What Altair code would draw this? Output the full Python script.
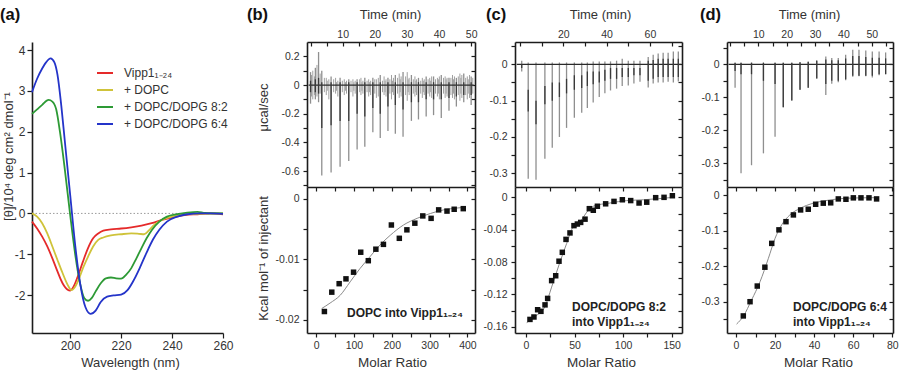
import altair as alt
import pandas as pd

W, H = 903, 372
FONT = "Liberation Sans"
INK = "#1c1c1c"
TXT = "#333333"
MINUS = "\u2212"

# ---------------- (a) CD spectra ----------------
cd_series = ["Vipp1₁₋₂₄", "+ DOPC", "+ DOPC/DOPG 8:2", "+ DOPC/DOPG 6:4"]
cd_colors = ["#e52a2a", "#cfc33a", "#2d9a35", "#2434c9"]

wl_vipp = [185, 187, 189, 191, 193, 195, 197, 199, 200, 201, 203, 205, 207, 209, 211, 213,
           216, 220, 224, 228, 232, 236, 240, 245, 250, 255, 260]
th_vipp = [-0.20, -0.37, -0.57, -0.81, -1.10, -1.42, -1.71, -1.87, -1.89, -1.83, -1.54, -1.18,
           -0.85, -0.61, -0.49, -0.42, -0.39, -0.37, -0.34, -0.30, -0.24, -0.16, -0.10, -0.04,
           -0.02, 0.00, -0.02]

wl_dopc = [185, 187, 189, 191, 193, 195, 197, 199, 200.5, 202, 203.5, 205, 207, 209, 211, 213,
           216, 220, 224, 227, 229, 231, 233, 236, 240, 245, 250, 260]
th_dopc = [0.00, -0.08, -0.24, -0.49, -0.81, -1.14, -1.46, -1.75, -1.88, -1.79, -1.59, -1.34,
           -1.06, -0.81, -0.65, -0.59, -0.54, -0.51, -0.49, -0.50, -0.51, -0.41, -0.28, -0.16,
           -0.08, -0.02, -0.01, 0.00]

wl_82 = [185, 187, 189, 191.5, 193, 194.5, 196, 198, 200, 202, 204, 205.5, 207, 208.5, 210, 212,
         214, 216, 218, 220, 222, 224, 226, 228, 230, 232, 235, 238, 242, 246, 250, 253, 260]
th_82 = [2.44, 2.55, 2.66, 2.78, 2.74, 2.55, 1.99, 1.02, -0.04, -1.02, -1.75, -2.07, -2.14,
         -2.07, -1.91, -1.71, -1.59, -1.57, -1.59, -1.60, -1.50, -1.34, -1.10, -0.85, -0.61,
         -0.41, -0.20, -0.08, -0.02, 0.02, 0.04, 0.01, 0.00]

wl_64 = [185, 187, 189, 190.5, 192.3, 193.8, 195, 196.5, 198, 200, 202, 204, 206, 208, 210, 212,
         214.5, 217, 220, 222.5, 225, 227.5, 230, 232.5, 235, 238, 242, 246, 251, 255, 260]
th_64 = [2.97, 3.30, 3.55, 3.70, 3.80, 3.70, 3.40, 2.64, 1.70, 0.45, -0.80, -1.75, -2.30, -2.46,
         -2.38, -2.17, -2.04, -2.01, -1.99, -1.88, -1.63, -1.31, -0.96, -0.64, -0.40, -0.20,
         -0.08, -0.02, 0.00, 0.00, -0.01]

# ---------------- (b) DOPC into Vipp1 ----------------
b_inj_t = [0.0, 1.5, 2.5, 3.5, 6.4, 9.2, 11.9, 14.5, 16.9, 19.4, 21.7, 24.1, 26.4, 28.8, 31.4,
           33.6, 36.0, 38.3, 40.7, 43.1, 45.4, 47.7, 50.0]
b_inj_hi = [0.09, 0.12, 0.23, 0.10, 0.06, 0.05, 0.04, 0.04, 0.05, 0.05, 0.07, 0.05, 0.07, 0.09,
            0.07, 0.05, 0.06, 0.06, 0.07, 0.05, 0.05, 0.08, 0.06]
b_inj_lo = [-0.13, -0.10, -0.12, -0.63, -0.61, -0.57, -0.53, -0.45, -0.43, -0.33, -0.37, -0.32,
            -0.34, -0.36, -0.25, -0.24, -0.22, -0.21, -0.23, -0.18, -0.15, -0.12, -0.14]
b_core_hi = [0.03, 0.04, 0.05, 0.02, 0.02, 0.02, 0.02, 0.02, 0.02, 0.02, 0.02, 0.02, 0.02, 0.02,
             0.02, 0.02, 0.02, 0.02, 0.02, 0.02, 0.02, 0.02, 0.02]
b_core_lo = [-0.05, -0.05, -0.06, -0.30, -0.28, -0.25, -0.25, -0.20, -0.22, -0.16, -0.20, -0.15,
             -0.14, -0.17, -0.12, -0.12, -0.10, -0.10, -0.10, -0.09, -0.08, -0.07, -0.07]
b_noise_t = [0.3, 0.7, 1.2, 2.0, 3.0, 4.3, 4.9, 5.2, 5.7, 7.2, 7.8, 8.1, 8.5, 9.9, 10.5, 10.9,
             11.2, 12.6, 13.2, 13.5, 13.9, 15.3, 15.7, 16.0, 16.3, 17.6, 18.1, 18.4, 18.7, 20.0,
             20.5, 21.1, 22.4, 22.9, 23.2, 23.5, 24.7, 25.2, 25.5, 25.8, 27.1, 27.6, 27.9, 28.2,
             29.6, 30.1, 30.4, 30.7, 32.0, 32.5, 32.8, 33.0, 34.3, 34.8, 35.1, 35.4, 36.6, 37.1,
             37.4, 37.7, 38.9, 39.5, 39.8, 40.1, 41.4, 41.9, 42.2, 42.5, 43.7, 44.2, 44.5, 44.8,
             46.0, 46.5, 46.8, 47.1, 48.3, 48.8, 49.1, 49.5, 50.5]
b_noise_hi = [0.07, 0.10, 0.06, 0.14, 0.08, 0.05, 0.05, 0.03, 0.04, 0.04, 0.05, 0.02, 0.03, 0.03,
              0.04, 0.02, 0.03, 0.03, 0.04, 0.02, 0.03, 0.04, 0.05, 0.02, 0.03, 0.03, 0.04, 0.02,
              0.03, 0.04, 0.04, 0.05, 0.03, 0.06, 0.03, 0.04, 0.04, 0.07, 0.03, 0.05, 0.05, 0.08,
              0.04, 0.06, 0.06, 0.09, 0.04, 0.05, 0.04, 0.06, 0.03, 0.04, 0.03, 0.05, 0.03, 0.04,
              0.04, 0.05, 0.03, 0.06, 0.04, 0.05, 0.04, 0.06, 0.05, 0.06, 0.04, 0.05, 0.05, 0.07,
              0.04, 0.06, 0.06, 0.08, 0.05, 0.07, 0.05, 0.06, 0.04, 0.07, 0.05]
b_noise_lo = [-0.08, -0.10, -0.07, -0.08, -0.06, -0.05, -0.07, -0.04, -0.10, -0.05, -0.06, -0.04,
              -0.08, -0.05, -0.07, -0.04, -0.06, -0.05, -0.08, -0.04, -0.06, -0.05, -0.07, -0.04,
              -0.06, -0.05, -0.08, -0.05, -0.07, -0.06, -0.09, -0.08, -0.05, -0.07, -0.05, -0.08,
              -0.06, -0.10, -0.05, -0.07, -0.06, -0.09, -0.05, -0.08, -0.07, -0.11, -0.05, -0.07,
              -0.06, -0.08, -0.05, -0.07, -0.06, -0.09, -0.05, -0.07, -0.06, -0.08, -0.05, -0.09,
              -0.06, -0.08, -0.06, -0.10, -0.06, -0.09, -0.06, -0.08, -0.07, -0.09, -0.06, -0.10,
              -0.07, -0.11, -0.06, -0.09, -0.07, -0.10, -0.06, -0.09, -0.06]
b_base = [-0.6, 50.8]

b_ratio = [22, 41.5, 61, 79, 99, 118, 138, 158, 178, 199, 220, 240, 261, 282, 304, 324, 346, 365, 389]
b_heat = [-0.0186, -0.0154, -0.0140, -0.0132, -0.0121, -0.0088, -0.0102, -0.0083, -0.0075,
          -0.0043, -0.0065, -0.0051, -0.0040, -0.0028, -0.0032, -0.0018, -0.0020, -0.0017, -0.0016]
b_fit_x = [15, 37, 64, 90, 116, 143, 169, 196, 231, 267, 302, 337, 372, 389]
b_fit_y = [-0.0181, -0.0172, -0.0159, -0.0137, -0.0115, -0.0095, -0.0076, -0.0060, -0.0043,
           -0.0032, -0.0024, -0.0018, -0.0015, -0.0014]

# ---------------- (c) DOPC/DOPG 8:2 into Vipp1 ----------------
c_inj_t = [0.8, 3.8, 7.4, 11.5, 14.9, 18.2, 21.5, 25.1, 28.5, 31.1, 33.8, 36.6, 39.2, 41.8, 44.6,
           47.2, 50.0, 52.6, 55.4, 59.2, 61.5, 63.8, 66.1, 68.4, 70.8, 73.1]
c_inj_hi = [0.010, 0.005, 0.005, 0.005, 0.005, 0.005, 0.005, 0.005, 0.005, 0.005, 0.008, 0.008,
            0.008, 0.008, 0.010, 0.015, 0.010, 0.010, 0.010, 0.020, 0.026, 0.030, 0.032, 0.032,
            0.035, 0.035]
c_inj_lo = [-0.020, -0.315, -0.318, -0.260, -0.230, -0.200, -0.175, -0.147, -0.133, -0.120,
            -0.105, -0.090, -0.080, -0.072, -0.067, -0.060, -0.058, -0.053, -0.048, -0.064,
            -0.053, -0.050, -0.050, -0.048, -0.050, -0.047]
c_core_hi = [0.000, -0.070, -0.100, -0.060, -0.050, -0.050, -0.040, -0.030, -0.030, -0.020,
             -0.020, -0.020, -0.015, -0.010, -0.010, -0.010, -0.010, -0.010, -0.010, 0.010,
             0.012, 0.015, 0.015, 0.015, 0.015, 0.015]
c_core_lo = [-0.010, -0.130, -0.165, -0.110, -0.100, -0.090, -0.080, -0.070, -0.065, -0.060,
             -0.055, -0.050, -0.045, -0.040, -0.040, -0.035, -0.035, -0.030, -0.030, -0.045,
             -0.040, -0.035, -0.035, -0.035, -0.035, -0.035]
c_base = [-1.5, 74.5]

c_ratio = [4.1, 8.2, 12, 15.4, 19.6, 22.3, 26.4, 30.6, 34, 37.4, 41.2, 45.3, 49.4, 52.9, 56.3,
           60.8, 65.2, 69.3, 73.5, 82, 90.6, 99.2, 107.8, 116.4, 124.3, 133.5, 142.1, 150.7]
c_heat = [-0.151, -0.148, -0.139, -0.141, -0.133, -0.125, -0.103, -0.097, -0.079, -0.068,
          -0.052, -0.044, -0.035, -0.033, -0.031, -0.027, -0.014, -0.016, -0.011, -0.008,
          -0.005, -0.003, -0.004, -0.007, -0.006, -0.0004, 0.000, 0.002]
c_fit_x = [0.7, 11, 19.6, 26.4, 35, 41.9, 48.7, 55.6, 64.2, 69.3, 86.5, 103.7, 120.9, 151.7]
c_fit_y = [-0.155, -0.146, -0.135, -0.111, -0.080, -0.057, -0.036, -0.030, -0.016, -0.011,
           -0.007, -0.004, -0.003, 0.000]

# ---------------- (d) DOPC/DOPG 6:4 into Vipp1 ----------------
d_inj_t = [1.8, 3.9, 7.6, 11.8, 15.9, 18.8, 21.8, 24.7, 27.6, 30.6, 33.8, 35.9, 38.2, 40.8, 43.3,
           45.5, 47.9, 50.2, 52.6, 54.9]
d_inj_hi = [0.005, 0.005, 0.005, 0.005, 0.005, 0.005, 0.005, 0.006, 0.008, 0.013, 0.024, 0.019,
            0.019, 0.029, 0.044, 0.044, 0.042, 0.039, 0.039, 0.036]
d_inj_lo = [-0.071, -0.330, -0.306, -0.270, -0.220, -0.130, -0.110, -0.077, -0.071, -0.043,
            -0.093, -0.059, -0.054, -0.048, -0.038, -0.036, -0.036, -0.040, -0.033, -0.030]
d_core_hi = [0.005, 0.005, 0.005, 0.005, 0.005, 0.005, 0.005, 0.006, 0.008, 0.010, 0.015, 0.012,
             0.012, 0.018, 0.025, 0.025, 0.022, 0.020, 0.020, 0.018]
d_core_lo = [-0.020, -0.030, -0.030, -0.050, -0.060, -0.130, -0.110, -0.077, -0.071, -0.043,
             -0.060, -0.050, -0.050, -0.045, -0.035, -0.035, -0.035, -0.035, -0.030, -0.030]
d_base = [-0.5, 57.3]

d_ratio = [3.75, 7.2, 10.9, 14.8, 18.3, 22, 25.6, 29.4, 33.1, 37, 40.8, 44.7, 48.5, 52.4, 56.3,
           60.1, 64, 68.1, 72]
d_heat = [-0.340, -0.300, -0.256, -0.203, -0.136, -0.098, -0.075, -0.056, -0.042, -0.040,
          -0.026, -0.023, -0.022, -0.011, -0.012, -0.008, -0.008, -0.008, -0.011]
d_fit_x = [0.3, 3.75, 8, 12.3, 16.6, 20, 23.4, 27.6, 32.8, 39.6, 48.1, 56.7, 72]
d_fit_y = [-0.363, -0.341, -0.295, -0.244, -0.178, -0.122, -0.084, -0.056, -0.0375, -0.023,
           -0.014, -0.009, -0.0075]

# ---------------- frame geometry: (domain, pixel range) per sub-plot ----------------
FRAMES = {
    "a":    {"x": ([185, 260], [32, 223]),        "y": ([-2.93, 4.2], [333, 42])},
    "bT":   {"x": ([-1.1, 51.2], [307, 475]),     "y": ([-0.711, 0.30], [187, 42])},
    "bB":   {"x": ([-24, 420], [307, 475]),       "y": ([-0.02215, 0.00198], [333, 187])},
    "cT":   {"x": ([-2.3, 74.8], [515, 682]),     "y": ([-0.3377, 0.0614], [187, 42])},
    "cB":   {"x": ([-11.3, 160.6], [515, 682]),   "y": ([-0.1678, 0.0128], [333, 187])},
    "dT":   {"x": ([-1.05, 57.5], [727, 893]),    "y": ([-0.372, 0.0677], [187, 42])},
    "dB":   {"x": ([-4.6, 80.4], [727, 893]),     "y": ([-0.388, 0.0225], [333, 187])},
}


def sc(frame, ch):
    dom, rng_ = FRAMES[frame][ch]
    return alt.Scale(domain=dom, range=rng_, nice=False, zero=False)


def lab_expr(step):
    return (f"abs(datum.value / {step} - round(datum.value / {step})) < 1e-6 ? "
            f"replace(format(datum.value, '.3~f'), '{MINUS}', '-') : ''")


def ax_left(xpos, values, step, size=10.5, tick=4, pad=4, title=None, tx=0, ty=0, tsize=13):
    kw = dict(orient="left", offset=-xpos, values=values, labelExpr=lab_expr(step),
              tickSize=tick, labelPadding=pad, labelFontSize=size)
    if title:
        kw.update(title=title, titleX=tx - xpos, titleY=ty, titleAngle=270, titleAlign="center",
                  titleBaseline="middle", titleFontSize=tsize)
    else:
        kw["title"] = None
    return alt.Axis(**kw)


def ax_right_in(xpos, values):
    # mirror axis on the right edge, ticks pointing into the frame
    return alt.Axis(orient="left", offset=-xpos, values=values, labels=False, tickSize=4,
                    title=None)


def ax_bottom(ypos, values, step, size=10.5, tick=4, pad=3, title=None, tx=0, ty=0, tsize=13.5):
    kw = dict(orient="bottom", offset=ypos - H, values=values, labelExpr=lab_expr(step),
              tickSize=tick, labelPadding=pad, labelFontSize=size)
    if title:
        kw.update(title=title, titleX=tx, titleY=ty - ypos, titleAlign="center",
                  titleBaseline="middle", titleFontSize=tsize)
    else:
        kw["title"] = None
    return alt.Axis(**kw)


def ax_top_in(ypos, values):
    # mirror axis on the top edge, ticks pointing down into the frame
    return alt.Axis(orient="bottom", offset=ypos - H, values=values, labels=False, tickSize=4,
                    title=None)


def ax_top_labels(ypos, values, title, tx, ty):
    return alt.Axis(orient="top", offset=-ypos, values=values, ticks=False, domain=False,
                    labelPadding=3, labelFontSize=10.5, labelExpr=lab_expr(1),
                    title=title, titleX=tx, titleY=ty - ypos, titleAlign="center",
                    titleBaseline="middle", titleFontSize=13)


def guide(frame, xaxis, yaxis):
    dom_x = FRAMES[frame]["x"][0]
    dom_y = FRAMES[frame]["y"][0]
    df = pd.DataFrame({"gx": [dom_x[0]], "gy": [dom_y[0]]})
    return alt.Chart(df).mark_point(opacity=0).encode(
        x=alt.X("gx:Q", scale=sc(frame, "x"), axis=xaxis),
        y=alt.Y("gy:Q", scale=sc(frame, "y"), axis=yaxis),
    )


def rng(start, stop, step):
    out, v = [], start
    while v <= stop + 1e-9:
        out.append(round(v, 6))
        v += step
    return out


def spikes(frame, t, hi, lo, color, width):
    df = pd.DataFrame({"t": t, "hi": hi, "lo": lo})
    return alt.Chart(df).mark_rule(color=color, strokeWidth=width).encode(
        x=alt.X("t:Q", scale=sc(frame, "x"), axis=None),
        y=alt.Y("hi:Q", scale=sc(frame, "y"), axis=None), y2="lo:Q")


layers = []

# ---- panel (a) ----
cd_rows = []
for name, wl, th in [(cd_series[0], wl_vipp, th_vipp), (cd_series[1], wl_dopc, th_dopc),
                     (cd_series[2], wl_82, th_82), (cd_series[3], wl_64, th_64)]:
    cd_rows += [{"wl": w, "th": t, "sample": name} for w, t in zip(wl, th)]
cd_df = pd.DataFrame(cd_rows)

zero_df = pd.DataFrame({"w0": [185], "w1": [260], "z": [0]})
layers.append(alt.Chart(zero_df).mark_rule(color="#9a9a9a", strokeDash=[1.5, 2], strokeWidth=1).encode(
    x=alt.X("w0:Q", scale=sc("a", "x"), axis=None), x2="w1:Q",
    y=alt.Y("z:Q", scale=sc("a", "y"), axis=None)))

layers.append(alt.Chart(cd_df).mark_line(strokeWidth=1.8, interpolate="monotone").encode(
    x=alt.X("wl:Q", scale=sc("a", "x"), axis=None),
    y=alt.Y("th:Q", scale=sc("a", "y"), axis=None),
    color=alt.Color("sample:N", scale=alt.Scale(domain=cd_series, range=cd_colors),
                    legend=alt.Legend(orient="none", legendX=96, legendY=64, title=None,
                                      symbolType="stroke", symbolSize=256, symbolStrokeWidth=2,
                                      labelFontSize=12, labelColor=TXT, labelFont=FONT,
                                      labelOffset=10, rowPadding=2, padding=0)),
    detail="sample:N",
    order=alt.Order("wl:Q")))

layers.append(guide("a",
                    ax_bottom(333, [200, 220, 240, 260], 20, size=12, tick=5, pad=2,
                              title="Wavelength (nm)", tx=130, ty=362, tsize=13),
                    ax_left(32, rng(-2, 4, 1), 1, size=12, tick=5, pad=2,
                            title="[θ]/10⁴ deg cm² dmol⁻¹", tx=8, ty=156, tsize=13)))


def itc_panel(key, xl, xr, inj, core, base, ratio, heat, fit_x, fit_y,
              time_ticks, time_labels, time_tx, ytop_vals, ytop_step, ybot_vals, ybot_step,
              mr_vals, mr_step, mr_tx, left_titles):
    T, B = key + "T", key + "B"
    out = []
    base_df = pd.DataFrame({"t0": [base[0]], "t1": [base[1]], "z": [0.0]})
    out.append(spikes(T, *inj, "#8f8f8f", 1.3))
    out.append(alt.Chart(base_df).mark_rule(color="#2a2a2a", strokeWidth=1.3).encode(
        x=alt.X("t0:Q", scale=sc(T, "x"), axis=None), x2="t1:Q",
        y=alt.Y("z:Q", scale=sc(T, "y"), axis=None)))
    out.append(spikes(T, inj[0], core[0], core[1], "#3a3a3a", 1.3))

    fit = pd.DataFrame({"r": fit_x, "q": fit_y})
    pts = pd.DataFrame({"r": ratio, "q": heat})
    out.append(alt.Chart(fit).mark_line(color="#8a8a8a", strokeWidth=1, interpolate="monotone").encode(
        x=alt.X("r:Q", scale=sc(B, "x"), axis=None),
        y=alt.Y("q:Q", scale=sc(B, "y"), axis=None)))
    out.append(alt.Chart(pts).mark_square(size=30, color="#111111", opacity=1).encode(
        x=alt.X("r:Q", scale=sc(B, "x"), axis=None),
        y=alt.Y("q:Q", scale=sc(B, "y"), axis=None)))

    yT, yB = FRAMES[T]["y"][1][1], FRAMES[B]["y"][1][1]
    ybottom = FRAMES[B]["y"][1][0]
    tt = left_titles
    out.append(guide(T, ax_top_labels(yT, time_labels, "Time (min)", time_tx, 14),
                     ax_left(xl, ytop_vals, ytop_step,
                             title=tt[0] if tt else None, tx=263, ty=107, tsize=13)))
    out.append(guide(T, ax_top_in(yT, time_ticks), ax_right_in(xr, ytop_vals)))
    out.append(guide(B, ax_bottom(ybottom, mr_vals, mr_step, title="Molar Ratio", tx=mr_tx, ty=362),
                     ax_left(xl, ybot_vals, ybot_step,
                             title=tt[1] if tt else None, tx=263, ty=258, tsize=13)))
    out.append(guide(B, ax_top_in(yB, mr_vals), ax_right_in(xr, ybot_vals)))
    return out


# baseline noise of the DOPC titration, drawn beneath its injection peaks
layers.append(spikes("bT", b_noise_t, b_noise_hi, b_noise_lo, "#a0a0a0", 1.0))

layers += itc_panel("b", 307, 475, (b_inj_t, b_inj_hi, b_inj_lo), (b_core_hi, b_core_lo), b_base,
                    b_ratio, b_heat, b_fit_x, b_fit_y,
                    rng(0, 50, 5), [10, 20, 30, 40, 50], 390,
                    rng(-0.7, 0.2, 0.1), 0.2, rng(-0.02, 0, 0.005), 0.01,
                    rng(0, 400, 50), 100, 392, ["μcal/sec", "Kcal mol⁻¹ of injectant"])

layers += itc_panel("c", 515, 682, (c_inj_t, c_inj_hi, c_inj_lo), (c_core_hi, c_core_lo), c_base,
                    c_ratio, c_heat, c_fit_x, c_fit_y,
                    rng(0, 70, 10), [20, 40, 60], 600,
                    rng(-0.3, 0.05, 0.05), 0.1, rng(-0.16, 0, 0.02), 0.04,
                    rng(0, 150, 25), 50, 601, None)

layers += itc_panel("d", 727, 893, (d_inj_t, d_inj_hi, d_inj_lo), (d_core_hi, d_core_lo), d_base,
                    d_ratio, d_heat, d_fit_x, d_fit_y,
                    rng(0, 55, 5), [10, 20, 30, 40, 50], 809,
                    rng(-0.35, 0.05, 0.05), 0.1, rng(-0.35, 0, 0.05), 0.1,
                    rng(0, 80, 10), 20, 818, None)

# ---- in-plot annotations (placed in data units of each lower plot) ----
notes = [
    ("bB", 82, -0.0188, "DOPC into Vipp1₁₋₂₄"),
    ("cB", 47.4, -0.1356, "DOPC/DOPG 8:2"),
    ("cB", 47.4, -0.1542, "into Vipp1₁₋₂₄"),
    ("dB", 29.2, -0.315, "DOPC/DOPG 6:4"),
    ("dB", 29.2, -0.357, "into Vipp1₁₋₂₄"),
]
for frame, nx, ny, text in notes:
    ndf = pd.DataFrame({"nx": [nx], "ny": [ny], "txt": [text]})
    layers.append(alt.Chart(ndf).mark_text(align="left", baseline="middle", font=FONT,
                                           fontSize=12, fontWeight="bold", color="#222222").encode(
        x=alt.X("nx:Q", scale=sc(frame, "x"), axis=None),
        y=alt.Y("ny:Q", scale=sc(frame, "y"), axis=None),
        text="txt:N"))

# ---- panel letters ----
letters = [("(a)", 0), ("(b)", 247), ("(c)", 486), ("(d)", 700)]
for lab, lx in letters:
    layers.append(alt.Chart(pd.DataFrame({"s": [lab]})).mark_text(
        align="left", baseline="middle", font=FONT, fontSize=16.5, fontWeight="bold",
        color="#111111").encode(x=alt.value(lx), y=alt.value(15), text="s:N"))

chart = alt.layer(*layers).resolve_scale(x="independent", y="independent").properties(
    width=W, height=H, padding=0, autosize=alt.AutoSizeParams(type="none"),
    background="white",
).configure_view(stroke=None).configure_axis(
    labelFont=FONT, titleFont=FONT, labelColor=TXT, titleColor=TXT, titleFontWeight="normal",
    domainColor=INK, domainWidth=1.6, tickColor=INK, tickWidth=1.2, grid=False,
    labelFlush=False, labelOverlap=False,
)

chart.save("out.html", embed_options={"renderer": "svg", "actions": False})
